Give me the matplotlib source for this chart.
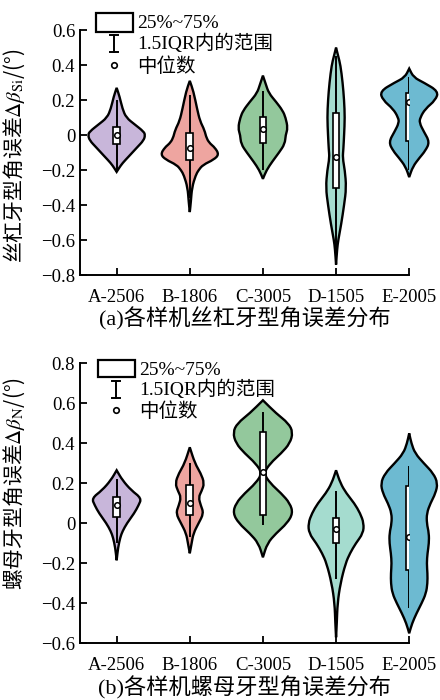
import matplotlib
matplotlib.use("Agg")
import matplotlib.pyplot as plt
from matplotlib.patches import Rectangle, PathPatch
from matplotlib.path import Path

plt.rcParams['font.family'] = ['Liberation Serif', 'Noto Sans CJK SC']
plt.rcParams['mathtext.fontset'] = 'stix'
plt.rcParams['axes.unicode_minus'] = True

names = ['A-2506', 'B-1806', 'C-3005', 'D-1505', 'E-2005']
colors = ['#c8b6da', '#eea5a0', '#93c89c', '#a5dccf', '#6dbad1']

# ---- panel (a): lead screw ----
# violin outlines: y value and half width (in category units)
a_shape_y = [
    [0.27, 0.22, 0.15, 0.10, 0.06, 0.02, 0.0, -0.03, -0.07, -0.12, -0.16, -0.19, -0.21],
    [0.31, 0.25, 0.15, 0.08, 0.03, -0.02, -0.05, -0.07, -0.11, -0.14, -0.17, -0.2, -0.23, -0.3, -0.38, -0.44],
    [0.34, 0.29, 0.24, 0.19, 0.14, 0.10, 0.04, 0.0, -0.05, -0.10, -0.15, -0.2, -0.25],
    [0.50, 0.45, 0.40, 0.30, 0.20, 0.10, 0.0, -0.08, -0.13, -0.2, -0.3, -0.4, -0.51, -0.6, -0.65, -0.74],
    [0.38, 0.33, 0.30, 0.25, 0.20, 0.15, 0.10, 0.07, 0.02, -0.04, -0.09, -0.13, -0.18, -0.24],
]
a_shape_w = [
    [0.0, 0.04, 0.08, 0.13, 0.25, 0.37, 0.39, 0.37, 0.28, 0.17, 0.08, 0.03, 0.0],
    [0.0, 0.05, 0.10, 0.14, 0.20, 0.23, 0.28, 0.34, 0.40, 0.33, 0.18, 0.12, 0.08, 0.03, 0.015, 0.0],
    [0.0, 0.04, 0.08, 0.18, 0.27, 0.31, 0.34, 0.31, 0.30, 0.22, 0.13, 0.05, 0.0],
    [0.0, 0.03, 0.06, 0.09, 0.11, 0.12, 0.11, 0.10, 0.09, 0.12, 0.14, 0.11, 0.07, 0.03, 0.015, 0.0],
    [0.0, 0.06, 0.20, 0.40, 0.36, 0.22, 0.15, 0.14, 0.20, 0.28, 0.22, 0.14, 0.05, 0.0],
]
a_q1 = [-0.05, -0.143, -0.046, -0.30, -0.034]
a_med = [0.0, -0.076, 0.034, -0.126, 0.19]
a_q3 = [0.046, 0.01, 0.103, 0.126, 0.24]
a_lo = [-0.2, -0.36, -0.2, -0.7, -0.2]
a_hi = [0.2, 0.23, 0.25, 0.45, 0.33]

# ---- panel (b): nut ----
b_shape_y = [
    [0.265, 0.215, 0.165, 0.125, 0.09, 0.05, 0.0, -0.04, -0.07, -0.12, -0.185],
    [0.38, 0.30, 0.25, 0.20, 0.16, 0.13, 0.09, 0.05, 0.0, -0.05, -0.1, -0.15],
    [0.615, 0.55, 0.50, 0.455, 0.40, 0.35, 0.30, 0.25, 0.20, 0.15, 0.10, 0.05, 0.0, -0.05, -0.1, -0.17],
    [0.265, 0.20, 0.15, 0.10, 0.05, 0.0, -0.05, -0.1, -0.15, -0.2, -0.3, -0.4, -0.5, -0.57],
    [0.45, 0.40, 0.35, 0.30, 0.25, 0.20, 0.15, 0.10, 0.05, 0.0, -0.05, -0.1, -0.15, -0.2, -0.25, -0.3, -0.35, -0.4, -0.45, -0.5, -0.55],
]
b_shape_w = [
    [0.0, 0.08, 0.20, 0.34, 0.30, 0.24, 0.14, 0.08, 0.05, 0.02, 0.0],
    [0.0, 0.07, 0.15, 0.20, 0.16, 0.12, 0.15, 0.19, 0.12, 0.05, 0.025, 0.0],
    [0.0, 0.18, 0.35, 0.41, 0.37, 0.25, 0.10, 0.01, 0.10, 0.25, 0.37, 0.41, 0.33, 0.18, 0.06, 0.0],
    [0.0, 0.06, 0.14, 0.25, 0.33, 0.38, 0.37, 0.27, 0.19, 0.13, 0.06, 0.02, 0.01, 0.0],
    [0.0, 0.03, 0.08, 0.20, 0.33, 0.39, 0.36, 0.29, 0.24, 0.24, 0.27, 0.27, 0.25, 0.24, 0.25, 0.25, 0.23, 0.17, 0.10, 0.04, 0.0],
]
b_q1 = [0.03, 0.04, 0.04, -0.1, -0.235]
b_med = [0.09, 0.10, 0.255, -0.03, -0.07]
b_q3 = [0.13, 0.19, 0.455, 0.025, 0.185]
b_lo = [-0.1, -0.07, -0.01, -0.28, -0.425]
b_hi = [0.22, 0.30, 0.555, 0.16, 0.285]

a_ticks = [-0.8, -0.6, -0.4, -0.2, 0, 0.2, 0.4, 0.6]
b_ticks = [-0.6, -0.4, -0.2, 0, 0.2, 0.4, 0.6, 0.8]


def tick_text(v):
    if v == 0:
        return '0'
    s = '%.1f' % abs(v)
    return ('\u2212' + s) if v < 0 else s


def side_path(pts):
    # smooth curve through the midpoints, ends kept exact (sharp tips)
    verts = [pts[0]]
    codes = [Path.LINETO]
    mids = [((pts[k][0] + pts[k + 1][0]) / 2, (pts[k][1] + pts[k + 1][1]) / 2) for k in range(len(pts) - 1)]
    verts.append(mids[0])
    codes.append(Path.LINETO)
    for k in range(1, len(pts) - 1):
        verts += [pts[k], mids[k]]
        codes += [Path.CURVE3, Path.CURVE3]
    verts.append(pts[-1])
    codes.append(Path.LINETO)
    return verts, codes


def violin(ax, i, ys, ws, color):
    right = [(i + w, y) for y, w in zip(ys, ws)]
    left = [(i - w, y) for y, w in zip(ys, ws)][::-1]
    v1, c1 = side_path(right)
    v2, c2 = side_path(left)
    c1[0] = Path.MOVETO
    verts = v1 + v2[1:] + [v1[0]]
    codes = c1 + c2[1:] + [Path.CLOSEPOLY]
    ax.add_patch(PathPatch(Path(verts, codes), facecolor=color, edgecolor='black',
                           linewidth=1.7, joinstyle='miter', zorder=2, clip_on=False))


def draw_panel(ax, sy, sw, q1, med, q3, lo, hi, ticks, ylabel, label_y, title, leg):
    for i in range(len(names)):
        violin(ax, i, sy[i], sw[i], colors[i])
        ax.vlines(i, lo[i], hi[i], color='black', linewidth=1.4, zorder=3)
        ax.add_patch(Rectangle((i - 0.045, q1[i]), 0.09, q3[i] - q1[i], facecolor='white',
                               edgecolor='black', linewidth=1.2, zorder=4))
        ax.plot(i, med[i], 'o', ms=4, mfc='white', mec='black', mew=1.1, zorder=5)

    ax.set_xlim(-0.5, 4)
    ax.set_ylim(ticks[0], ticks[-1])
    ax.set_xticks(range(len(names)))
    ax.set_xticklabels(names, fontsize=13.5)
    ax.set_yticks(ticks)
    ax.set_yticklabels([tick_text(t) for t in ticks], fontsize=13.5)
    ax.tick_params(direction='in', length=5, width=1.3)
    ax.tick_params(axis='x', pad=10)
    for s in ['top', 'right']:
        ax.spines[s].set_visible(False)
    for s in ['left', 'bottom']:
        ax.spines[s].set_linewidth(1.4)
    ax.set_ylabel(ylabel, fontsize=15, family='Noto Sans CJK SC')
    ax.yaxis.set_label_coords(-0.16, label_y)
    ax.text(0.5, leg[6], title, transform=ax.transAxes, ha='center', va='center', fontsize=16)

    # legend drawn by hand
    bx, by0, by1, wx, wy0, wy1, cy = leg[:6] + (leg[7],)
    tr = ax.transAxes
    ax.add_patch(Rectangle((bx, by0), 0.112, by1 - by0, facecolor='white', edgecolor='black',
                           linewidth=1.6, transform=tr, clip_on=False))
    ax.plot([wx, wx], [wy0, wy1], color='black', lw=1.4, transform=tr, clip_on=False)
    ax.plot([wx - 0.012, wx + 0.012], [wy0, wy0], color='black', lw=1.4, transform=tr, clip_on=False)
    ax.plot([wx - 0.012, wx + 0.012], [wy1, wy1], color='black', lw=1.4, transform=tr, clip_on=False)
    ax.plot(wx, cy, 'o', ms=4, mfc='white', mec='black', mew=1.2, transform=tr, clip_on=False)
    tx = bx + 0.125
    ax.text(tx, (by0 + by1) / 2 - 0.005, '25%~75%', transform=tr, fontsize=14, va='center')
    ax.text(tx, (wy0 + wy1) / 2, '1.5IQR内的范围', transform=tr, fontsize=14, va='center')
    ax.text(tx, cy - 0.005, '中位数', transform=tr, fontsize=14, va='center')


fig = plt.figure(figsize=(4.4, 7), dpi=100)
ax1 = fig.add_axes([0.182, 0.607, 0.748, 0.350])
ax2 = fig.add_axes([0.182, 0.081, 0.748, 0.400])

draw_panel(ax1, a_shape_y, a_shape_w, a_q1, a_med, a_q3, a_lo, a_hi, a_ticks,
           '丝杠牙型角误差' + r'$\Delta\beta_{\rm Si}$' + '/(°)', 0.486, '(a)各样机丝杠牙型角误差分布',
           (0.049, 0.992, 1.069, 0.103, 0.91, 0.98, -0.178, 0.857))
draw_panel(ax2, b_shape_y, b_shape_w, b_q1, b_med, b_q3, b_lo, b_hi, b_ticks,
           '螺母牙型角误差' + r'$\Delta\beta_{\rm N}$' + '/(°)', 0.57, '(b)各样机螺母牙型角误差分布',
           (0.055, 0.95, 1.01, 0.109, 0.875, 0.936, -0.158, 0.832))

fig.savefig('out.png', dpi=100)
